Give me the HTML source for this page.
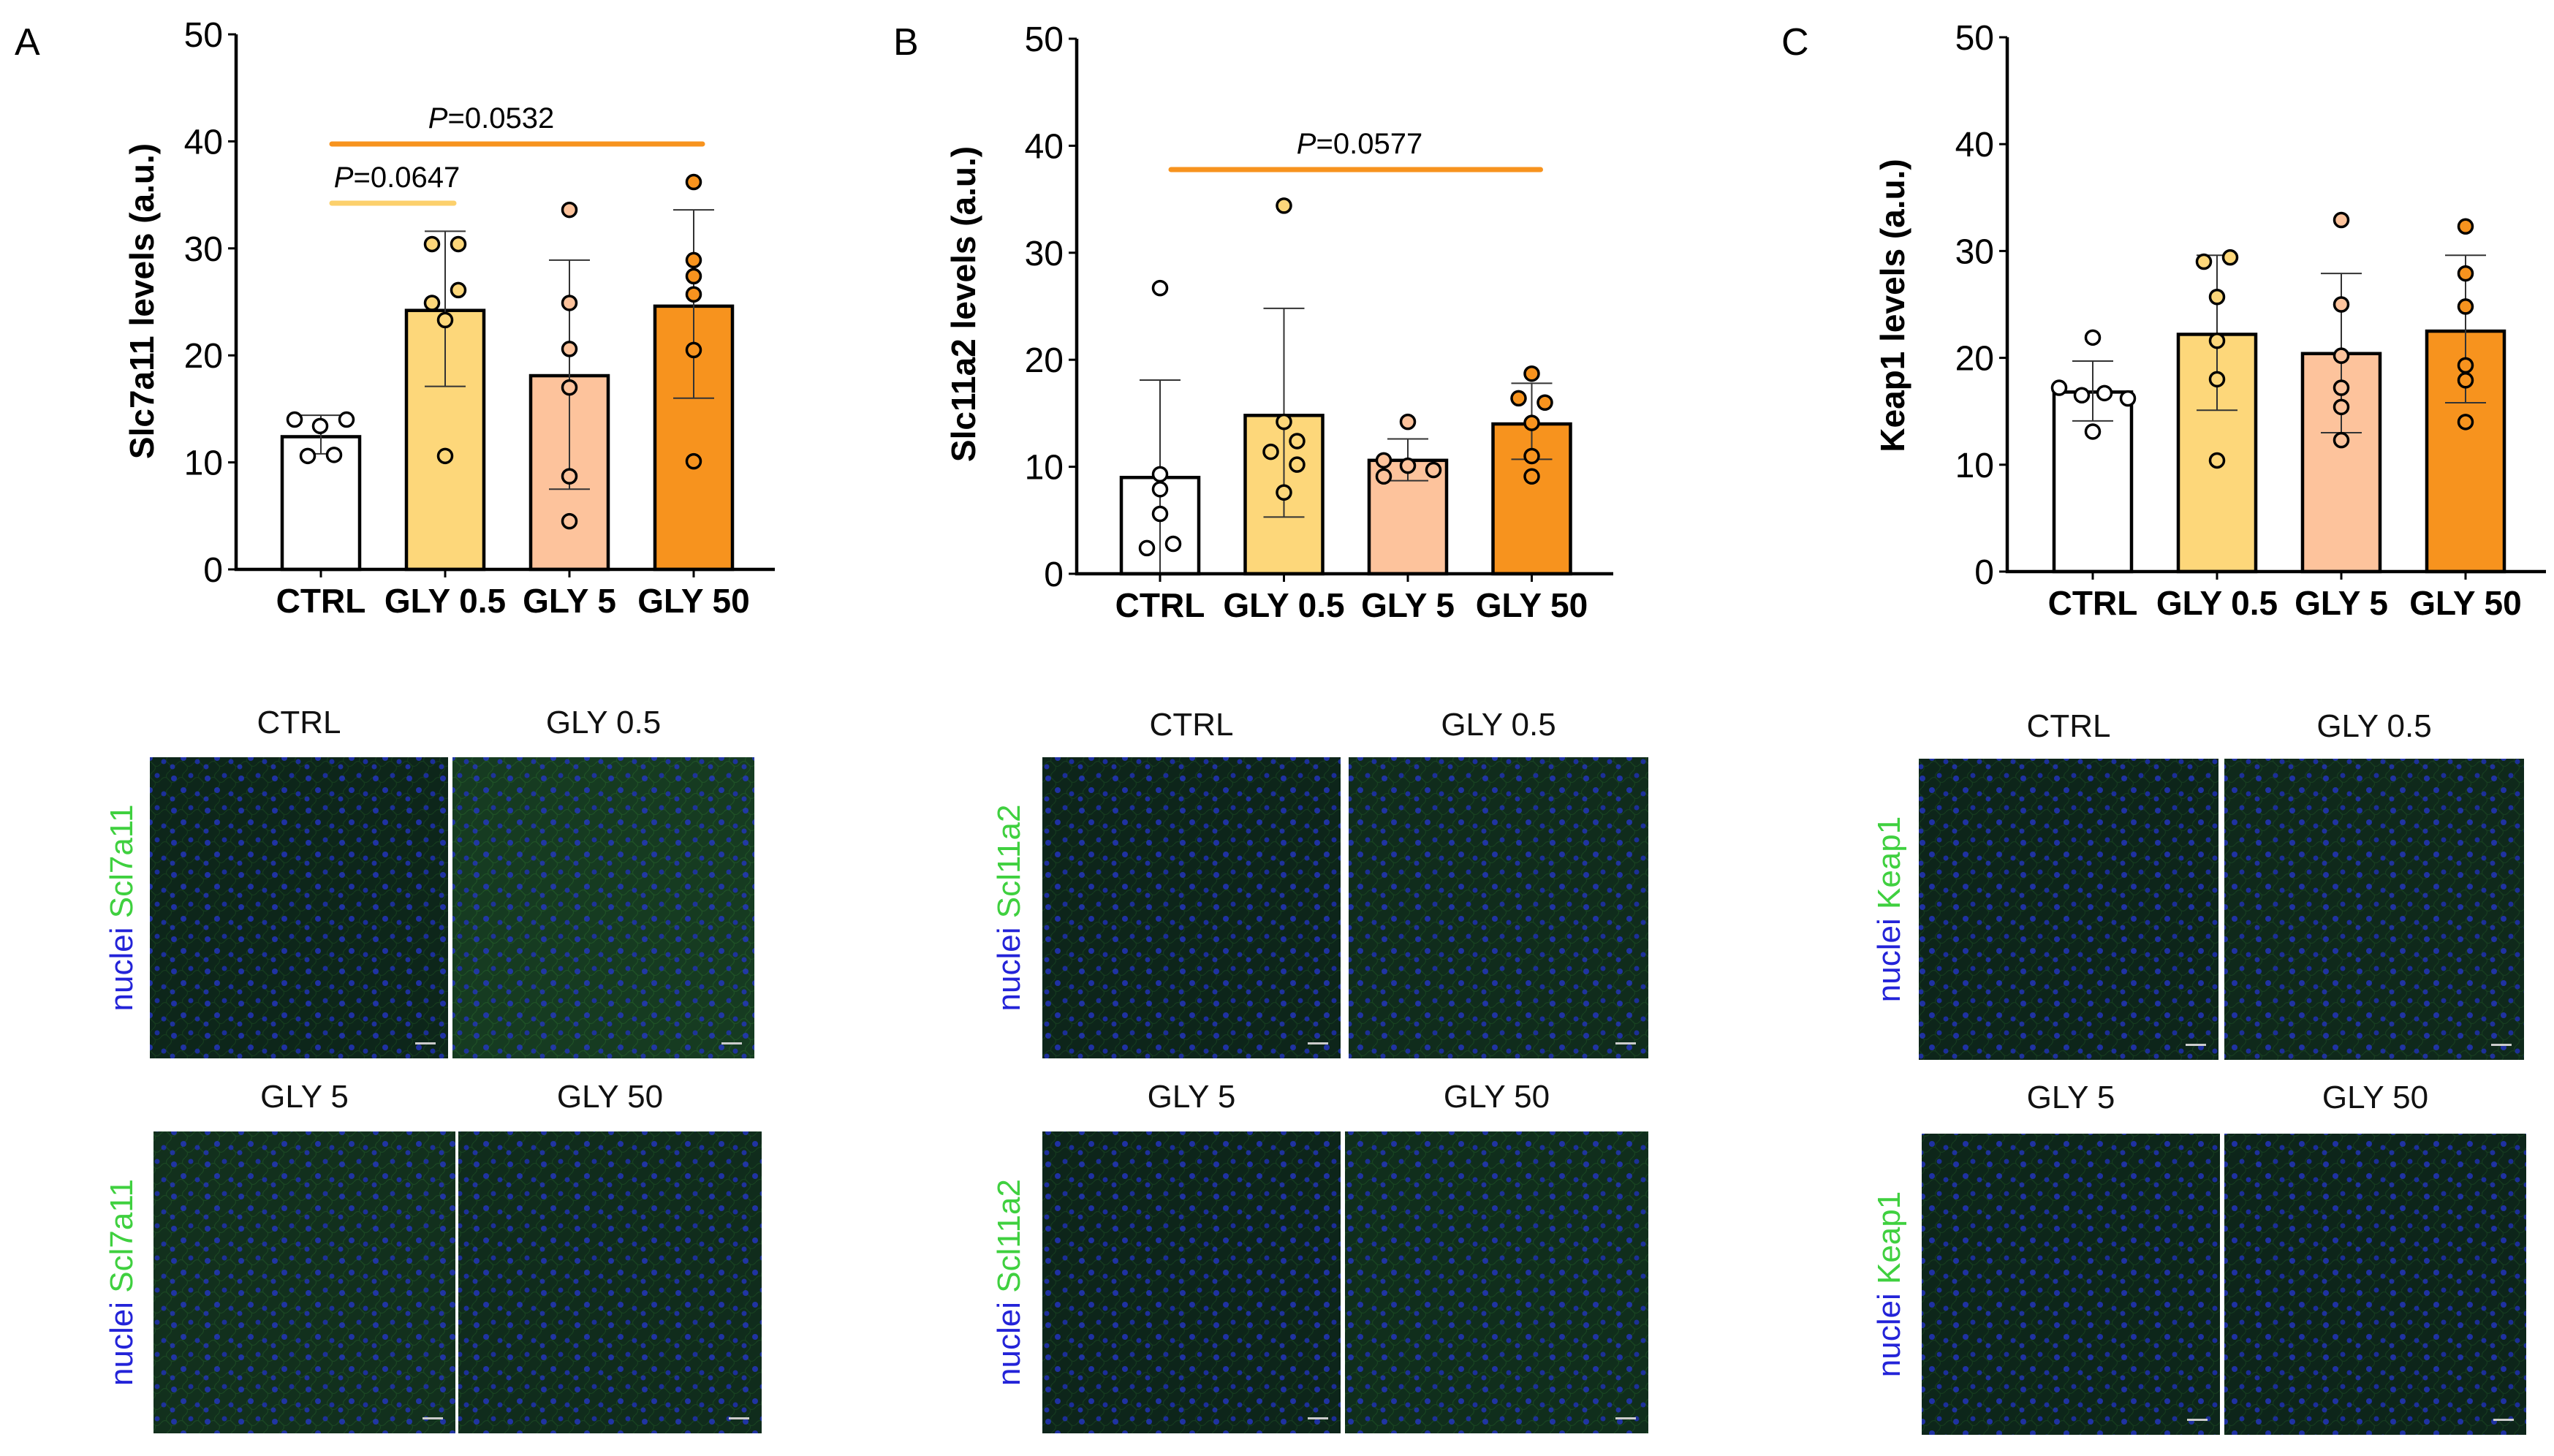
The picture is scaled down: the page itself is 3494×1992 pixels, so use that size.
<!DOCTYPE html>
<html><head><meta charset="utf-8"><style>
html,body{margin:0;padding:0;background:#fff;}
svg text{font-family:"Liberation Sans",Arial,sans-serif;}
</style></head><body>
<svg id="fig" xmlns="http://www.w3.org/2000/svg" width="3494" height="1987" viewBox="0 0 3494 1987">
<defs>
<pattern id="nuc" width="46" height="44" patternUnits="userSpaceOnUse">
<rect width="46" height="44" fill="none"/>
<circle cx="8" cy="9" r="4" fill="#2535d0"/><circle cx="31" cy="5" r="3.5" fill="#2030c0"/>
<circle cx="21" cy="25" r="4" fill="#2535d0"/><circle cx="40" cy="30" r="3.5" fill="#2030c4"/>
<circle cx="6" cy="37" r="3.5" fill="#2434c8"/>
</pattern>
<pattern id="mesh" width="22" height="22" patternUnits="userSpaceOnUse">
<path d="M0 11 Q6 4 11 11 T22 11 M11 0 Q4 6 11 11 T11 22" stroke="#2f7a2f" stroke-width="1.2" fill="none" opacity="0.45"/>
</pattern>
</defs>
<g id="charts"></g>
<g id="micro"></g>
</svg>
<script>
const categories = ["CTRL","GLY 0.5","GLY 5","GLY 50"];
const yTicks = [0,10,20,30,40,50];
// Panel A (Slc7a11)
const meanA = [12.4,24.2,18.1,24.6];
const errHiA = [14.4,31.6,28.9,33.6];
const errLoA = [10.8,17.1,7.5,16.0];
const ptsA = [[14.0,13.4,14.0,10.6,10.7],[30.4,30.4,26.1,24.9,23.3,10.6],[33.6,24.9,20.6,17.0,8.7,4.5],[36.2,28.9,27.4,25.7,20.5,10.1]];
// Panel B (Slc11a2)
const meanB = [9.0,14.8,10.6,14.0];
const errHiB = [18.1,24.8,12.6,17.8];
const errLoB = [0,5.3,8.7,10.7];
const ptsB = [[26.7,9.3,7.9,5.6,2.4,2.8],[34.4,14.2,11.4,12.4,10.2,7.6],[14.2,10.6,10.1,9.7,9.1],[18.7,16.4,16.0,14.1,11.0,9.1]];
// Panel C (Keap1)
const meanC = [16.8,22.2,20.4,22.5];
const errHiC = [19.7,29.6,27.9,29.6];
const errLoC = [14.1,15.1,13.0,15.8];
const ptsC = [[21.9,17.2,16.5,16.7,16.2,13.1],[29.0,29.4,25.7,21.6,18.0,10.4],[32.9,25.0,20.2,17.2,15.4,12.3],[32.3,27.9,24.8,19.3,17.9,14.0]];
// jitter (x offsets, px)
const jitA = [[-36,-1,35,-18,18],[-18,18,18,-18,0,0],[0,0,0,0,0,0],[0,0,0,0,0,0]];
const jitB = [[0,0,0,0,-18,18],[0,0,-18,18,18,0],[0,-33,0,35,-33],[0,-18,18,0,0,0]];
const jitC = [[0,-46,-15,16,48,0],[-18,18,0,0,0,0],[0,0,0,0,0,0],[0,0,0,0,0,0]];

const fills = ["#ffffff","#fdd77a","#fdc39c","#f7931e"];
const NS="http://www.w3.org/2000/svg";
function mk(tag,attrs,parent){const e=document.createElementNS(NS,tag);for(const k in attrs)e.setAttribute(k,attrs[k]);parent.appendChild(e);return e;}

function panel(cfg){
  const g=mk('g',{},document.getElementById('charts'));
  
  
  const y=v=>cfg.y0-(v/50)*(cfg.y0-cfg.y50);
  const x=i=>cfg.cx0+i*cfg.step;
  const L=mk('text',{x:cfg.lx,y:75,'font-size':52},g);L.textContent=cfg.letter;
  
  
  const t=mk('text',{x:0,y:0,'font-size':46,'font-weight':'bold','text-anchor':'middle',transform:`translate(${cfg.tx},${cfg.ty}) rotate(-90)`},g);
  t.textContent=cfg.title;
  
  
  cfg.mean.forEach((m,i)=>{
    const b=mk('rect',{x:x(i)-53,y:y(m),width:106,height:y(0)-y(m),fill:fills[i],stroke:'#000','stroke-width':4.5},g);
    
    
  });
  cfg.mean.forEach((m,i)=>{
    const e=mk('path',{d:`M${x(i)} ${y(cfg.lo[i])}V${y(cfg.hi[i])}M${x(i)-28} ${y(cfg.hi[i])}H${x(i)+28}`+(cfg.lo[i]>0?`M${x(i)-28} ${y(cfg.lo[i])}H${x(i)+28}`:''),stroke:'#333','stroke-width':2,fill:'none'},g);
    
    
  });
  cfg.pts.forEach((arr,i)=>arr.forEach((v,j)=>{
    const c=mk('circle',{cx:x(i)+cfg.jit[i][j],cy:y(v),r:9.5,fill:fills[i],stroke:'#000','stroke-width':3.5},g);
    
    
  }));
  const ax=mk('path',{d:`M${cfg.ax} ${cfg.y50}V${y(0)}H${cfg.xend}`,stroke:'#000','stroke-width':4.5,fill:'none'},g);
  
  
  yTicks.forEach(v=>{
    mk('path',{d:`M${cfg.ax-11} ${y(v)}H${cfg.ax}`,stroke:'#000','stroke-width':3},g);
    const tl=mk('text',{x:cfg.ax-18,y:y(v)+17,'font-size':48,'text-anchor':'end'},g);tl.textContent=v;
    
    
  });
  categories.forEach((c,i)=>{
    mk('path',{d:`M${x(i)} ${y(0)}V${y(0)+11}`,stroke:'#000','stroke-width':3},g);
    const tl=mk('text',{x:x(i),y:cfg.cy,'font-size':46,'font-weight':'bold','text-anchor':'middle'},g);tl.textContent=c;
    
    
  });
  (cfg.sig||[]).forEach(s=>{
    const l=mk('line',{x1:x(s.a)+15,x2:x(s.b)+12,y1:s.y,y2:s.y,stroke:s.col,'stroke-width':7,'stroke-linecap':'round'},g);
    
    
    const tx=mk('text',{x:s.tx,y:s.y-22,'font-size':40,'text-anchor':'middle'},g);
    tx.innerHTML='<tspan font-style="italic">P</tspan>=' + s.p;
    
    
  });
}
panel({id:'a',letter:'A',lx:20,title:'Slc7a11 levels (a.u.)',tx:210,ty:412,ax:323,y0:779,y50:47,cx0:439,step:170,xend:1060,cy:838,
  mean:meanA,hi:errHiA,lo:errLoA,pts:ptsA,jit:jitA,
  sig:[{a:0,b:3,y:197,col:'#f7931e',p:'0.0532',tx:672},{a:0,b:1,y:278,col:'#fcd06c',p:'0.0647',tx:543}]});
panel({id:'b',letter:'B',lx:1222,title:'Slc11a2 levels (a.u.)',tx:1334,ty:416,ax:1473,y0:785,y50:53,cx0:1587,step:169.5,xend:2207,cy:844,
  mean:meanB,hi:errHiB,lo:errLoB,pts:ptsB,jit:jitB,
  sig:[{a:0,b:3,y:232,col:'#f7931e',p:'0.0577',tx:1860}]});
panel({id:'c',letter:'C',lx:2437,title:'Keap1 levels (a.u.)',tx:2605,ty:418,ax:2746,y0:782,y50:51,cx0:2863,step:170,xend:3483,cy:841,
  mean:meanC,hi:errHiC,lo:errLoC,pts:ptsC,jit:jitC});

const micro=[
 {marker:'Scl7a11',lx:167,imgs:[[205,1036,408,412],[619,1036,413,412],[210,1548,413,413],[627,1548,415,413]],ty:[988,1500],glow:[0.04,0.2,0.12,0.08]},
 {marker:'Scl11a2',lx:1381,imgs:[[1426,1036,408,412],[1845,1036,410,412],[1426,1548,408,413],[1840,1548,415,413]],ty:[991,1500],glow:[0.03,0.08,0.03,0.1]},
 {marker:'Keap1',lx:2585,imgs:[[2625,1038,410,412],[3043,1038,410,412],[2629,1551,408,412],[3043,1551,413,412]],ty:[993,1501],glow:[0.03,0.06,0.04,0.03]}
];
const mg=document.getElementById('micro');
micro.forEach((p,pi)=>{
  p.imgs.forEach((r,i)=>{
    const g=mk('g',{},mg);
    
    
    mk('rect',{x:r[0],y:r[1],width:r[2],height:r[3],fill:'#0c2219'},g);
    mk('rect',{x:r[0],y:r[1],width:r[2],height:r[3],fill:'url(#mesh)',opacity:0.5+p.glow[i]},g);
    mk('rect',{x:r[0],y:r[1],width:r[2],height:r[3],fill:'#3fa03f',opacity:p.glow[i]},g);
    mk('rect',{x:r[0],y:r[1],width:r[2],height:r[3],fill:'url(#nuc)',opacity:0.75},g);
    mk('rect',{x:r[0]+r[2]-45,y:r[1]+r[3]-22,width:28,height:3,fill:'#ccc'},g);
    const t=mk('text',{x:r[0]+r[2]/2,y:(i<2?p.ty[0]:p.ty[1])+15,'font-size':44,'text-anchor':'middle',fill:'#111'},g);
    t.textContent=categories[i];
    
    
  });
  [0,1].forEach(row=>{
    const r=p.imgs[row*2];
    const cy=r[1]+r[3]/2;
    const t=mk('text',{x:0,y:0,'font-size':44,'text-anchor':'middle',transform:`translate(${p.lx+14},${cy}) rotate(-90)`},mg);
    t.innerHTML='<tspan fill="#2323d8">nuclei</tspan>  <tspan fill="#3fd03f">'+p.marker+'</tspan>';
    
    
  });
});
</script>
</body></html>
